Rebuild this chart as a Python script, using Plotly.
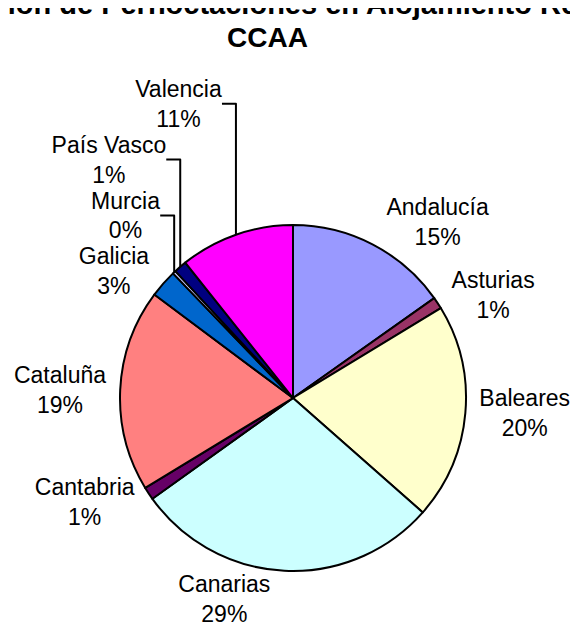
import plotly.graph_objects as go

# Share of overnight stays by region (%)
regiones = ['Andalucía', 'Asturias', 'Baleares', 'Canarias', 'Cantabria',
            'Cataluña', 'Galicia', 'Murcia', 'País Vasco', 'Valencia']
pernoctaciones = [15.2, 1.1, 20.2, 28.6, 1.2, 18.9, 2.6, 0.3, 1.2, 10.7]
colores = ['#9999FF', '#993366', '#FFFFCC', '#CCFFFF', '#660066',
           '#FF8080', '#0066CC', '#CCCCFF', '#000080', '#FF00FF']

titulo_1 = '<b>Distribución de Pernoctaciones en Alojamiento Reglado por</b>'
titulo_2 = '<b>CCAA</b>'
fuente = 'Liberation Sans, Arial'

fig = go.Figure()
fig.add_trace(go.Pie(labels=regiones, values=pernoctaciones, sort=False,
                     direction='clockwise', rotation=0,
                     marker=dict(colors=colores, line=dict(color='black', width=2)),
                     textposition='outside', texttemplate='%{label}<br>%{percent:.0%}',
                     outsidetextfont=dict(color='black', size=23, family=fuente),
                     showlegend=False, hoverinfo='label+percent'))

# page body has an 8px margin, margins below account for it
fig.update_layout(width=578, height=641, autosize=False,
                  margin=dict(l=112, r=120, t=217, b=78),
                  paper_bgcolor='white', plot_bgcolor='white',
                  font=dict(family=fuente, color='black'))

# title: first line runs off the page edges, as in the original
fig.add_annotation(text=titulo_1, xref='paper', yref='paper', x=0.507, y=1.588,
                   xanchor='center', yanchor='bottom', showarrow=False,
                   font=dict(family=fuente, size=29, color='black'))
fig.add_annotation(text=titulo_2, xref='paper', yref='paper', x=0.425, y=1.491,
                   xanchor='center', yanchor='bottom', showarrow=False,
                   font=dict(family=fuente, size=28, color='black'))

fig.write_html("out.html")
